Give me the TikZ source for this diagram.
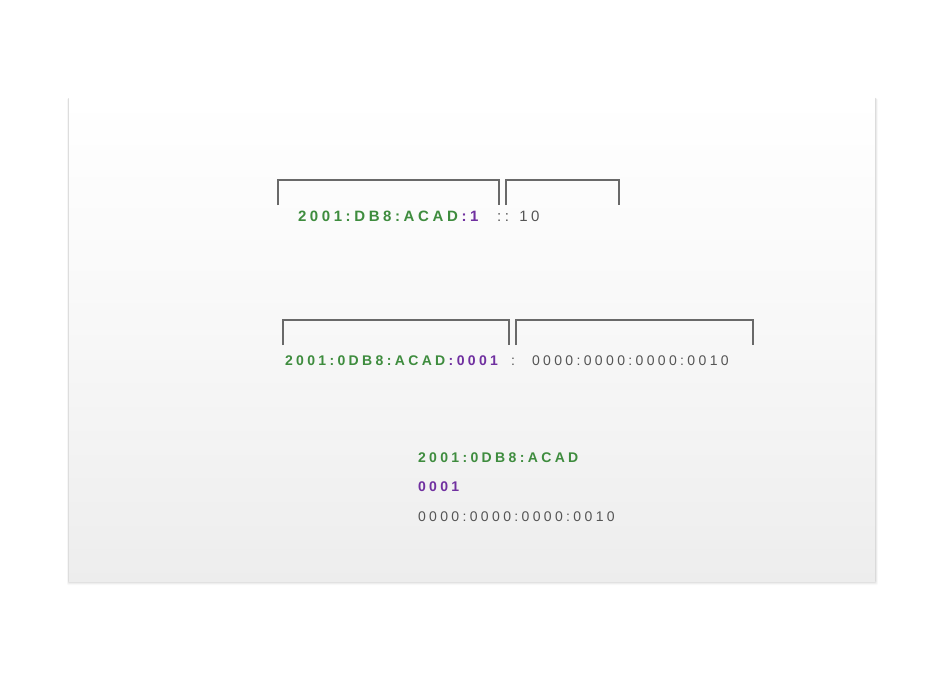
\documentclass[tikz,border=0pt]{standalone}
\usepackage{fontspec}
\setmainfont{Liberation Sans}
\newfontfamily\spacedfont[LetterSpace=24]{Liberation Sans}
\definecolor{ipgreen}{RGB}{62,140,62}
\definecolor{ippurple}{RGB}{112,48,160}
\definecolor{iptext}{RGB}{85,85,85}
\definecolor{ipline}{RGB}{105,105,105}
\newcommand{\lsgap}{\hspace{0.24em}}
\begin{document}
\begin{tikzpicture}[x=1pt,y=-1pt,
  lbl/.style={anchor=base west,inner sep=0pt,outer sep=0pt},
  big/.style={font=\spacedfont\fontsize{15}{18}\selectfont},
  small/.style={font=\spacedfont\fontsize{14}{17}\selectfont},
  brk/.style={draw=ipline,line width=1.3pt}]
\useasboundingbox (0,0) rectangle (944,681);
\fill[white] (0,0) rectangle (944,681);
% shadow
\foreach \d/\o in {4/0.025,3/0.035,2/0.05,1/0.07}{
  \fill[black,opacity=\o,rounded corners=1pt] (69-\d*0.5,97+\d*0.4) rectangle (875+\d*0.7,581+\d*1.0);
}
% panel
\shade[top color=white,bottom color=black!7,middle color=white!97!black] (69,97) rectangle (875,581);
% row 1
\node[lbl,big] (r1a) at (298,221) {\bfseries\color{ipgreen}2001:DB8:ACAD\lsgap\color{ippurple}:1};
\node[lbl,big] (r1b) at (497,221) {\color{iptext}:: 10};
\draw[brk] (278,205) -- (278,180) -- (499,180) -- (499,205);
\draw[brk] (506,205) -- (506,180) -- (619,180) -- (619,205);
% row 2
\node[lbl,small] (r2a) at (285,365) {\bfseries\color{ipgreen}2001:0DB8:ACAD\lsgap\color{ippurple}:0001};
\node[lbl,small] (r2b) at (511,365) {\color{iptext}:};
\node[lbl,small] (r2c) at (532,365) {\color{iptext}0000:0000:0000:0010};
\draw[brk] (283,345) -- (283,320) -- (509,320) -- (509,345);
\draw[brk] (516,345) -- (516,320) -- (753,320) -- (753,345);
% row 3
\node[lbl,small] (r3a) at (418,462) {\bfseries\color{ipgreen}2001:0DB8:ACAD};
\node[lbl,small] (r3b) at (418,491) {\bfseries\color{ippurple}0001};
\node[lbl,small] (r3c) at (418,521) {\color{iptext}0000:0000:0000:0010};
\end{tikzpicture}
\end{document}
